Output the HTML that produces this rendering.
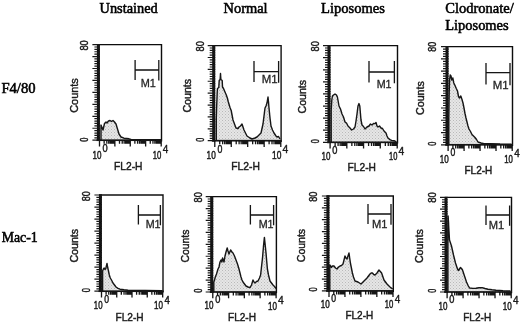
<!DOCTYPE html>
<html lang="en"><head><meta charset="utf-8"><title>Flow cytometry histograms</title>
<style>html,body{margin:0;padding:0;background:#fff}svg{display:block}.s{font-family:"Liberation Sans",Arial,Helvetica,sans-serif;fill:#1b1b1b;stroke:#1b1b1b;stroke-linejoin:round}.m{font-family:"Liberation Sans",Arial,Helvetica,sans-serif;fill:#262626;stroke:#262626}.t{font-family:"Liberation Serif","Times New Roman",Times,serif;fill:#050505;stroke:#050505}</style></head><body>
<svg width="520" height="322" viewBox="0 0 520 322">
<rect width="520" height="322" fill="#fff"/>
<defs><filter id="b" x="-5%" y="-5%" width="110%" height="110%"><feGaussianBlur stdDeviation="0.5"/></filter><pattern id="sp" width="3" height="3" patternUnits="userSpaceOnUse"><rect width="3" height="3" fill="#e6e6e6"/><rect x="0" y="0" width="1" height="1" fill="#b9b9b9"/><rect x="1.5" y="1.5" width="1" height="1" fill="#c4c4c4"/></pattern><filter id="tb" x="-10%" y="-10%" width="120%" height="120%"><feGaussianBlur stdDeviation="0.45"/></filter></defs>
<g filter="url(#b)">
<path d="M99.5 140.2 L99.5 125.0 L101.0 125.0 L103.0 130.0 L104.5 123.5 L106.0 122.0 L107.0 123.0 L108.5 121.0 L110.0 120.5 L111.5 121.5 L113.0 120.5 L114.5 122.0 L116.0 124.0 L117.5 129.0 L119.0 134.0 L121.0 137.0 L124.0 138.2 L129.0 138.8 L131.0 139.5 L161.0 139.6 L161.0 140.2 Z" fill="url(#sp)" stroke="none"/>
<path d="M101.0 140.2 L101.0 125.0 L103.0 130.0 L104.5 123.5 L106.0 122.0 L107.0 123.0 L108.5 121.0 L110.0 120.5 L111.5 121.5 L113.0 120.5 L114.5 122.0 L116.0 124.0 L117.5 129.0 L119.0 134.0 L121.0 137.0 L124.0 138.2 L129.0 138.8 L131.0 139.5 L161.0 139.6" fill="none" stroke="#141414" stroke-width="1.4" stroke-linejoin="round"/>
<path d="M97.0 44.6H161.5V141.4" fill="none" stroke="#0c0c0c" stroke-width="1.4"/>
<rect x="96.9" y="44.2" width="3.0" height="96.8" fill="#111"/>
<rect x="96.5" y="139.35" width="65.5" height="1.7" fill="#141414"/>
<path d="M100.0 140.20h-7.6 M100.0 137.81h-5.6 M100.0 135.42h-5.6 M100.0 133.03h-5.6 M100.0 130.64h-5.6 M100.0 128.25h-7.6 M100.0 125.86h-5.6 M100.0 123.47h-5.6 M100.0 121.08h-5.6 M100.0 118.69h-5.6 M100.0 116.30h-7.6 M100.0 113.91h-5.6 M100.0 111.52h-5.6 M100.0 109.13h-5.6 M100.0 106.74h-5.6 M100.0 104.35h-7.6 M100.0 101.96h-5.6 M100.0 99.57h-5.6 M100.0 97.18h-5.6 M100.0 94.79h-5.6 M100.0 92.40h-7.6 M100.0 90.01h-5.6 M100.0 87.62h-5.6 M100.0 85.23h-5.6 M100.0 82.84h-5.6 M100.0 80.45h-7.6 M100.0 78.06h-5.6 M100.0 75.67h-5.6 M100.0 73.28h-5.6 M100.0 70.89h-5.6 M100.0 68.50h-7.6 M100.0 66.11h-5.6 M100.0 63.72h-5.6 M100.0 61.33h-5.6 M100.0 58.94h-5.6 M100.0 56.55h-7.6 M100.0 54.16h-5.6 M100.0 51.77h-5.6 M100.0 49.38h-5.6 M100.0 46.99h-5.6 M100.0 44.60h-7.6" stroke="#181818" stroke-width="1.2" fill="none"/>
<path d="M99.50 140.2v6.2 M104.13 140.2v3.6 M106.84 140.2v3.6 M108.76 140.2v3.6 M110.25 140.2v3.6 M111.46 140.2v3.6 M112.49 140.2v3.6 M113.39 140.2v3.6 M114.17 140.2v3.6 M114.88 140.2v6.2 M119.50 140.2v3.6 M122.21 140.2v3.6 M124.13 140.2v3.6 M125.62 140.2v3.6 M126.84 140.2v3.6 M127.87 140.2v3.6 M128.76 140.2v3.6 M129.55 140.2v3.6 M130.25 140.2v6.2 M134.88 140.2v3.6 M137.59 140.2v3.6 M139.51 140.2v3.6 M141.00 140.2v3.6 M142.21 140.2v3.6 M143.24 140.2v3.6 M144.14 140.2v3.6 M144.92 140.2v3.6 M145.62 140.2v6.2 M150.25 140.2v3.6 M152.96 140.2v3.6 M154.88 140.2v3.6 M156.37 140.2v3.6 M157.59 140.2v3.6 M158.62 140.2v3.6 M159.51 140.2v3.6 M160.30 140.2v3.6 M161.20 140.2v6.2" stroke="#121212" stroke-width="1.3" fill="none"/>
<path d="M135.1 60.1V80.0M158.8 60.1V80.6M135.1 70.0H158.8" stroke="#141414" stroke-width="1.3" fill="none"/>
<path d="M214.8 140.7 L214.8 118.0 L216.3 118.0 L216.6 108.0 L217.0 98.0 L217.2 92.0 L217.5 88.5 L218.8 87.5 L219.2 80.5 L220.1 79.5 L220.5 73.5 L220.9 79.5 L222.2 80.5 L222.5 87.0 L223.5 88.5 L225.0 92.0 L226.3 95.0 L227.5 98.5 L228.2 101.5 L230.0 107.5 L231.2 110.5 L233.0 120.0 L236.0 128.0 L238.0 128.5 L239.0 127.0 L240.5 126.0 L242.0 124.0 L243.0 127.0 L244.0 130.0 L247.0 136.0 L250.0 138.0 L252.0 139.0 L255.0 138.0 L257.0 137.0 L261.0 133.0 L263.0 124.0 L264.0 116.0 L265.0 108.0 L266.0 106.0 L267.0 103.0 L268.0 97.0 L268.6 103.0 L269.0 108.0 L270.0 118.0 L271.0 126.0 L272.5 130.0 L274.0 133.0 L276.0 136.0 L277.0 137.0 L278.5 136.5 L280.0 139.0 L280.0 140.7 Z" fill="url(#sp)" stroke="none"/>
<path d="M216.3 140.7 L216.3 118.0 L216.6 108.0 L217.0 98.0 L217.2 92.0 L217.5 88.5 L218.8 87.5 L219.2 80.5 L220.1 79.5 L220.5 73.5 L220.9 79.5 L222.2 80.5 L222.5 87.0 L223.5 88.5 L225.0 92.0 L226.3 95.0 L227.5 98.5 L228.2 101.5 L230.0 107.5 L231.2 110.5 L233.0 120.0 L236.0 128.0 L238.0 128.5 L239.0 127.0 L240.5 126.0 L242.0 124.0 L243.0 127.0 L244.0 130.0 L247.0 136.0 L250.0 138.0 L252.0 139.0 L255.0 138.0 L257.0 137.0 L261.0 133.0 L263.0 124.0 L264.0 116.0 L265.0 108.0 L266.0 106.0 L267.0 103.0 L268.0 97.0 L268.6 103.0 L269.0 108.0 L270.0 118.0 L271.0 126.0 L272.5 130.0 L274.0 133.0 L276.0 136.0 L277.0 137.0 L278.5 136.5 L280.0 139.0" fill="none" stroke="#141414" stroke-width="1.4" stroke-linejoin="round"/>
<path d="M212.3 45.6H281.1V141.9" fill="none" stroke="#0c0c0c" stroke-width="1.4"/>
<rect x="212.2" y="45.2" width="3.0" height="96.3" fill="#111"/>
<rect x="211.8" y="139.85" width="69.8" height="1.7" fill="#141414"/>
<path d="M215.3 140.70h-7.6 M215.3 138.32h-5.6 M215.3 135.94h-5.6 M215.3 133.57h-5.6 M215.3 131.19h-5.6 M215.3 128.81h-7.6 M215.3 126.43h-5.6 M215.3 124.06h-5.6 M215.3 121.68h-5.6 M215.3 119.30h-5.6 M215.3 116.92h-7.6 M215.3 114.55h-5.6 M215.3 112.17h-5.6 M215.3 109.79h-5.6 M215.3 107.41h-5.6 M215.3 105.04h-7.6 M215.3 102.66h-5.6 M215.3 100.28h-5.6 M215.3 97.90h-5.6 M215.3 95.53h-5.6 M215.3 93.15h-7.6 M215.3 90.77h-5.6 M215.3 88.39h-5.6 M215.3 86.02h-5.6 M215.3 83.64h-5.6 M215.3 81.26h-7.6 M215.3 78.88h-5.6 M215.3 76.51h-5.6 M215.3 74.13h-5.6 M215.3 71.75h-5.6 M215.3 69.37h-7.6 M215.3 67.00h-5.6 M215.3 64.62h-5.6 M215.3 62.24h-5.6 M215.3 59.86h-5.6 M215.3 57.49h-7.6 M215.3 55.11h-5.6 M215.3 52.73h-5.6 M215.3 50.35h-5.6 M215.3 47.98h-5.6 M215.3 45.60h-7.6" stroke="#181818" stroke-width="1.2" fill="none"/>
<path d="M214.80 140.7v6.2 M219.75 140.7v3.6 M222.65 140.7v3.6 M224.70 140.7v3.6 M226.30 140.7v3.6 M227.60 140.7v3.6 M228.70 140.7v3.6 M229.66 140.7v3.6 M230.50 140.7v3.6 M231.25 140.7v6.2 M236.20 140.7v3.6 M239.10 140.7v3.6 M241.15 140.7v3.6 M242.75 140.7v3.6 M244.05 140.7v3.6 M245.15 140.7v3.6 M246.11 140.7v3.6 M246.95 140.7v3.6 M247.70 140.7v6.2 M252.65 140.7v3.6 M255.55 140.7v3.6 M257.60 140.7v3.6 M259.20 140.7v3.6 M260.50 140.7v3.6 M261.60 140.7v3.6 M262.56 140.7v3.6 M263.40 140.7v3.6 M264.15 140.7v6.2 M269.10 140.7v3.6 M272.00 140.7v3.6 M274.05 140.7v3.6 M275.65 140.7v3.6 M276.95 140.7v3.6 M278.05 140.7v3.6 M279.01 140.7v3.6 M279.85 140.7v3.6 M280.80 140.7v6.2" stroke="#121212" stroke-width="1.3" fill="none"/>
<path d="M254.0 61.0V82.1M278.6 61.0V82.7M254.0 71.6H278.6" stroke="#141414" stroke-width="1.3" fill="none"/>
<path d="M330.1 142.3 L330.1 110.0 L331.2 110.0 L331.8 100.0 L332.4 96.0 L333.5 95.0 L335.0 94.0 L336.5 95.0 L337.4 97.0 L338.3 102.0 L339.0 106.0 L340.5 109.0 L342.0 114.0 L343.5 117.0 L345.0 122.0 L346.5 123.0 L348.0 126.0 L350.0 128.0 L351.6 130.0 L353.5 129.0 L355.0 127.0 L356.0 121.0 L357.0 114.0 L358.0 106.0 L359.0 103.6 L359.8 106.0 L360.3 112.0 L361.0 120.0 L362.0 125.0 L363.5 126.5 L365.0 129.0 L367.0 127.0 L369.0 126.0 L370.5 124.0 L372.0 125.0 L373.5 123.5 L375.0 123.6 L376.0 122.5 L377.0 126.0 L378.0 127.0 L379.5 126.0 L381.0 128.0 L382.5 128.5 L384.0 131.0 L386.0 133.0 L387.0 136.0 L388.0 138.0 L390.0 139.6 L392.0 140.6 L394.0 140.6 L396.0 141.6 L396.0 142.3 Z" fill="url(#sp)" stroke="none"/>
<path d="M331.2 142.3 L331.2 110.0 L331.8 100.0 L332.4 96.0 L333.5 95.0 L335.0 94.0 L336.5 95.0 L337.4 97.0 L338.3 102.0 L339.0 106.0 L340.5 109.0 L342.0 114.0 L343.5 117.0 L345.0 122.0 L346.5 123.0 L348.0 126.0 L350.0 128.0 L351.6 130.0 L353.5 129.0 L355.0 127.0 L356.0 121.0 L357.0 114.0 L358.0 106.0 L359.0 103.6 L359.8 106.0 L360.3 112.0 L361.0 120.0 L362.0 125.0 L363.5 126.5 L365.0 129.0 L367.0 127.0 L369.0 126.0 L370.5 124.0 L372.0 125.0 L373.5 123.5 L375.0 123.6 L376.0 122.5 L377.0 126.0 L378.0 127.0 L379.5 126.0 L381.0 128.0 L382.5 128.5 L384.0 131.0 L386.0 133.0 L387.0 136.0 L388.0 138.0 L390.0 139.6 L392.0 140.6 L394.0 140.6 L396.0 141.6" fill="none" stroke="#141414" stroke-width="1.4" stroke-linejoin="round"/>
<path d="M327.6 45.6H397.5V143.5" fill="none" stroke="#0c0c0c" stroke-width="1.4"/>
<rect x="327.5" y="45.2" width="3.0" height="97.9" fill="#111"/>
<rect x="327.1" y="141.45" width="70.9" height="1.7" fill="#141414"/>
<path d="M330.6 142.30h-7.6 M330.6 139.88h-5.6 M330.6 137.47h-5.6 M330.6 135.05h-5.6 M330.6 132.63h-5.6 M330.6 130.21h-7.6 M330.6 127.80h-5.6 M330.6 125.38h-5.6 M330.6 122.96h-5.6 M330.6 120.54h-5.6 M330.6 118.12h-7.6 M330.6 115.71h-5.6 M330.6 113.29h-5.6 M330.6 110.87h-5.6 M330.6 108.46h-5.6 M330.6 106.04h-7.6 M330.6 103.62h-5.6 M330.6 101.20h-5.6 M330.6 98.78h-5.6 M330.6 96.37h-5.6 M330.6 93.95h-7.6 M330.6 91.53h-5.6 M330.6 89.11h-5.6 M330.6 86.70h-5.6 M330.6 84.28h-5.6 M330.6 81.86h-7.6 M330.6 79.45h-5.6 M330.6 77.03h-5.6 M330.6 74.61h-5.6 M330.6 72.19h-5.6 M330.6 69.78h-7.6 M330.6 67.36h-5.6 M330.6 64.94h-5.6 M330.6 62.52h-5.6 M330.6 60.10h-5.6 M330.6 57.69h-7.6 M330.6 55.27h-5.6 M330.6 52.85h-5.6 M330.6 50.43h-5.6 M330.6 48.02h-5.6 M330.6 45.60h-7.6" stroke="#181818" stroke-width="1.2" fill="none"/>
<path d="M330.10 142.3v6.2 M335.13 142.3v3.6 M338.08 142.3v3.6 M340.17 142.3v3.6 M341.79 142.3v3.6 M343.11 142.3v3.6 M344.23 142.3v3.6 M345.20 142.3v3.6 M346.06 142.3v3.6 M346.83 142.3v6.2 M351.86 142.3v3.6 M354.80 142.3v3.6 M356.89 142.3v3.6 M358.52 142.3v3.6 M359.84 142.3v3.6 M360.96 142.3v3.6 M361.93 142.3v3.6 M362.78 142.3v3.6 M363.55 142.3v6.2 M368.58 142.3v3.6 M371.53 142.3v3.6 M373.62 142.3v3.6 M375.24 142.3v3.6 M376.56 142.3v3.6 M377.68 142.3v3.6 M378.65 142.3v3.6 M379.51 142.3v3.6 M380.27 142.3v6.2 M385.31 142.3v3.6 M388.25 142.3v3.6 M390.34 142.3v3.6 M391.97 142.3v3.6 M393.29 142.3v3.6 M394.41 142.3v3.6 M395.38 142.3v3.6 M396.23 142.3v3.6 M397.20 142.3v6.2" stroke="#121212" stroke-width="1.3" fill="none"/>
<path d="M369.0 61.0V82.6M394.4 61.0V83.2M369.0 72.0H394.4" stroke="#141414" stroke-width="1.3" fill="none"/>
<path d="M448.1 144.8 L448.1 118.0 L448.8 118.0 L449.0 104.0 L449.2 92.0 L449.6 80.0 L450.2 75.0 L451.0 76.0 L451.8 80.0 L452.8 78.0 L453.8 83.0 L455.0 85.5 L456.3 88.5 L457.5 91.0 L458.5 96.5 L459.5 98.0 L460.8 96.0 L462.0 99.5 L463.0 103.0 L464.0 108.0 L465.0 113.5 L466.0 118.0 L467.0 122.0 L468.0 126.0 L469.0 129.0 L470.5 131.5 L472.0 134.5 L473.5 136.0 L475.0 137.5 L476.5 139.5 L478.0 142.0 L481.0 143.0 L484.0 143.8 L490.0 143.6 L500.0 144.0 L511.5 144.2 L511.5 144.8 Z" fill="url(#sp)" stroke="none"/>
<path d="M448.8 144.8 L448.8 118.0 L449.0 104.0 L449.2 92.0 L449.6 80.0 L450.2 75.0 L451.0 76.0 L451.8 80.0 L452.8 78.0 L453.8 83.0 L455.0 85.5 L456.3 88.5 L457.5 91.0 L458.5 96.5 L459.5 98.0 L460.8 96.0 L462.0 99.5 L463.0 103.0 L464.0 108.0 L465.0 113.5 L466.0 118.0 L467.0 122.0 L468.0 126.0 L469.0 129.0 L470.5 131.5 L472.0 134.5 L473.5 136.0 L475.0 137.5 L476.5 139.5 L478.0 142.0 L481.0 143.0 L484.0 143.8 L490.0 143.6 L500.0 144.0 L511.5 144.2" fill="none" stroke="#141414" stroke-width="1.4" stroke-linejoin="round"/>
<path d="M445.6 46.6H512.5V146.0" fill="none" stroke="#0c0c0c" stroke-width="1.4"/>
<rect x="445.5" y="46.2" width="3.0" height="99.4" fill="#111"/>
<rect x="445.1" y="143.95" width="67.9" height="1.7" fill="#141414"/>
<path d="M448.6 144.80h-7.6 M448.6 142.34h-5.6 M448.6 139.89h-5.6 M448.6 137.44h-5.6 M448.6 134.98h-5.6 M448.6 132.53h-7.6 M448.6 130.07h-5.6 M448.6 127.62h-5.6 M448.6 125.16h-5.6 M448.6 122.71h-5.6 M448.6 120.25h-7.6 M448.6 117.80h-5.6 M448.6 115.34h-5.6 M448.6 112.89h-5.6 M448.6 110.43h-5.6 M448.6 107.98h-7.6 M448.6 105.52h-5.6 M448.6 103.06h-5.6 M448.6 100.61h-5.6 M448.6 98.16h-5.6 M448.6 95.70h-7.6 M448.6 93.25h-5.6 M448.6 90.79h-5.6 M448.6 88.34h-5.6 M448.6 85.88h-5.6 M448.6 83.42h-7.6 M448.6 80.97h-5.6 M448.6 78.52h-5.6 M448.6 76.06h-5.6 M448.6 73.60h-5.6 M448.6 71.15h-7.6 M448.6 68.69h-5.6 M448.6 66.24h-5.6 M448.6 63.78h-5.6 M448.6 61.33h-5.6 M448.6 58.88h-7.6 M448.6 56.42h-5.6 M448.6 53.97h-5.6 M448.6 51.51h-5.6 M448.6 49.05h-5.6 M448.6 46.60h-7.6" stroke="#181818" stroke-width="1.2" fill="none"/>
<path d="M448.10 144.8v6.2 M452.91 144.8v3.6 M455.72 144.8v3.6 M457.72 144.8v3.6 M459.27 144.8v3.6 M460.53 144.8v3.6 M461.60 144.8v3.6 M462.53 144.8v3.6 M463.34 144.8v3.6 M464.08 144.8v6.2 M468.88 144.8v3.6 M471.70 144.8v3.6 M473.69 144.8v3.6 M475.24 144.8v3.6 M476.51 144.8v3.6 M477.58 144.8v3.6 M478.50 144.8v3.6 M479.32 144.8v3.6 M480.05 144.8v6.2 M484.86 144.8v3.6 M487.67 144.8v3.6 M489.67 144.8v3.6 M491.22 144.8v3.6 M492.48 144.8v3.6 M493.55 144.8v3.6 M494.48 144.8v3.6 M495.29 144.8v3.6 M496.02 144.8v6.2 M500.83 144.8v3.6 M503.65 144.8v3.6 M505.64 144.8v3.6 M507.19 144.8v3.6 M508.46 144.8v3.6 M509.53 144.8v3.6 M510.45 144.8v3.6 M511.27 144.8v3.6 M512.20 144.8v6.2" stroke="#121212" stroke-width="1.3" fill="none"/>
<path d="M486.0 63.0V84.6M510.0 63.0V85.2M486.0 72.6H510.0" stroke="#141414" stroke-width="1.3" fill="none"/>
<path d="M101.5 291.2 L101.5 271.0 L102.6 271.0 L103.4 269.0 L104.2 268.0 L105.0 269.5 L105.8 268.5 L107.0 263.4 L107.8 268.0 L108.5 271.0 L109.3 275.0 L110.3 278.0 L111.5 280.0 L113.0 283.0 L114.5 285.0 L116.0 287.0 L118.0 288.4 L120.0 289.2 L124.0 289.8 L128.0 290.2 L162.0 290.6 L162.0 291.2 Z" fill="url(#sp)" stroke="none"/>
<path d="M102.6 291.2 L102.6 271.0 L103.4 269.0 L104.2 268.0 L105.0 269.5 L105.8 268.5 L107.0 263.4 L107.8 268.0 L108.5 271.0 L109.3 275.0 L110.3 278.0 L111.5 280.0 L113.0 283.0 L114.5 285.0 L116.0 287.0 L118.0 288.4 L120.0 289.2 L124.0 289.8 L128.0 290.2 L162.0 290.6" fill="none" stroke="#141414" stroke-width="1.4" stroke-linejoin="round"/>
<path d="M99.0 195.0H163.0V292.4" fill="none" stroke="#0c0c0c" stroke-width="1.4"/>
<rect x="98.9" y="194.6" width="3.0" height="97.4" fill="#111"/>
<rect x="98.5" y="290.35" width="65.0" height="1.7" fill="#141414"/>
<path d="M102.0 291.20h-7.6 M102.0 288.80h-5.6 M102.0 286.39h-5.6 M102.0 283.99h-5.6 M102.0 281.58h-5.6 M102.0 279.18h-7.6 M102.0 276.77h-5.6 M102.0 274.37h-5.6 M102.0 271.96h-5.6 M102.0 269.56h-5.6 M102.0 267.15h-7.6 M102.0 264.75h-5.6 M102.0 262.34h-5.6 M102.0 259.94h-5.6 M102.0 257.53h-5.6 M102.0 255.12h-7.6 M102.0 252.72h-5.6 M102.0 250.31h-5.6 M102.0 247.91h-5.6 M102.0 245.50h-5.6 M102.0 243.10h-7.6 M102.0 240.69h-5.6 M102.0 238.29h-5.6 M102.0 235.88h-5.6 M102.0 233.48h-5.6 M102.0 231.07h-7.6 M102.0 228.67h-5.6 M102.0 226.26h-5.6 M102.0 223.86h-5.6 M102.0 221.45h-5.6 M102.0 219.05h-7.6 M102.0 216.64h-5.6 M102.0 214.24h-5.6 M102.0 211.84h-5.6 M102.0 209.43h-5.6 M102.0 207.03h-7.6 M102.0 204.62h-5.6 M102.0 202.22h-5.6 M102.0 199.81h-5.6 M102.0 197.41h-5.6 M102.0 195.00h-7.6" stroke="#181818" stroke-width="1.2" fill="none"/>
<path d="M101.50 291.2v6.2 M106.09 291.2v3.6 M108.78 291.2v3.6 M110.68 291.2v3.6 M112.16 291.2v3.6 M113.37 291.2v3.6 M114.39 291.2v3.6 M115.27 291.2v3.6 M116.05 291.2v3.6 M116.75 291.2v6.2 M121.34 291.2v3.6 M124.03 291.2v3.6 M125.93 291.2v3.6 M127.41 291.2v3.6 M128.62 291.2v3.6 M129.64 291.2v3.6 M130.52 291.2v3.6 M131.30 291.2v3.6 M132.00 291.2v6.2 M136.59 291.2v3.6 M139.28 291.2v3.6 M141.18 291.2v3.6 M142.66 291.2v3.6 M143.87 291.2v3.6 M144.89 291.2v3.6 M145.77 291.2v3.6 M146.55 291.2v3.6 M147.25 291.2v6.2 M151.84 291.2v3.6 M154.53 291.2v3.6 M156.43 291.2v3.6 M157.91 291.2v3.6 M159.12 291.2v3.6 M160.14 291.2v3.6 M161.02 291.2v3.6 M161.80 291.2v3.6 M162.70 291.2v6.2" stroke="#121212" stroke-width="1.3" fill="none"/>
<path d="M138.4 205.0V224.6M160.4 205.0V225.2M138.4 215.0H160.4" stroke="#141414" stroke-width="1.3" fill="none"/>
<path d="M212.8 292.0 L212.8 282.0 L213.8 282.0 L214.5 280.0 L215.3 277.0 L216.5 274.0 L218.0 269.0 L219.0 267.0 L220.0 262.0 L221.0 260.0 L221.8 262.0 L222.6 258.0 L223.3 260.0 L224.0 262.0 L225.0 256.0 L226.0 252.0 L227.2 248.0 L228.0 251.0 L229.0 254.0 L229.8 252.0 L230.6 250.0 L232.0 252.0 L233.0 253.0 L234.5 256.0 L236.0 260.0 L237.5 264.0 L239.0 269.0 L240.0 273.0 L241.0 277.0 L242.0 280.0 L243.0 282.0 L244.5 284.0 L246.0 286.0 L248.0 287.0 L250.0 287.6 L251.5 285.0 L253.0 280.0 L254.0 282.0 L255.0 283.0 L256.5 281.5 L258.0 281.0 L259.5 278.0 L260.6 275.0 L261.6 266.0 L262.6 257.0 L263.5 246.0 L264.4 237.4 L265.2 245.0 L266.0 253.0 L266.7 261.0 L267.4 269.0 L268.5 275.0 L270.0 281.0 L271.5 283.0 L273.0 285.0 L274.5 286.5 L276.0 288.5 L276.0 292.0 Z" fill="url(#sp)" stroke="none"/>
<path d="M213.8 292.0 L213.8 282.0 L214.5 280.0 L215.3 277.0 L216.5 274.0 L218.0 269.0 L219.0 267.0 L220.0 262.0 L221.0 260.0 L221.8 262.0 L222.6 258.0 L223.3 260.0 L224.0 262.0 L225.0 256.0 L226.0 252.0 L227.2 248.0 L228.0 251.0 L229.0 254.0 L229.8 252.0 L230.6 250.0 L232.0 252.0 L233.0 253.0 L234.5 256.0 L236.0 260.0 L237.5 264.0 L239.0 269.0 L240.0 273.0 L241.0 277.0 L242.0 280.0 L243.0 282.0 L244.5 284.0 L246.0 286.0 L248.0 287.0 L250.0 287.6 L251.5 285.0 L253.0 280.0 L254.0 282.0 L255.0 283.0 L256.5 281.5 L258.0 281.0 L259.5 278.0 L260.6 275.0 L261.6 266.0 L262.6 257.0 L263.5 246.0 L264.4 237.4 L265.2 245.0 L266.0 253.0 L266.7 261.0 L267.4 269.0 L268.5 275.0 L270.0 281.0 L271.5 283.0 L273.0 285.0 L274.5 286.5 L276.0 288.5" fill="none" stroke="#141414" stroke-width="1.4" stroke-linejoin="round"/>
<path d="M210.3 196.6H276.4V293.2" fill="none" stroke="#0c0c0c" stroke-width="1.4"/>
<rect x="210.2" y="196.2" width="3.0" height="96.6" fill="#111"/>
<rect x="209.8" y="291.15" width="67.1" height="1.7" fill="#141414"/>
<path d="M213.3 292.00h-7.6 M213.3 289.62h-5.6 M213.3 287.23h-5.6 M213.3 284.85h-5.6 M213.3 282.46h-5.6 M213.3 280.07h-7.6 M213.3 277.69h-5.6 M213.3 275.31h-5.6 M213.3 272.92h-5.6 M213.3 270.54h-5.6 M213.3 268.15h-7.6 M213.3 265.76h-5.6 M213.3 263.38h-5.6 M213.3 261.00h-5.6 M213.3 258.61h-5.6 M213.3 256.23h-7.6 M213.3 253.84h-5.6 M213.3 251.45h-5.6 M213.3 249.07h-5.6 M213.3 246.69h-5.6 M213.3 244.30h-7.6 M213.3 241.91h-5.6 M213.3 239.53h-5.6 M213.3 237.14h-5.6 M213.3 234.76h-5.6 M213.3 232.38h-7.6 M213.3 229.99h-5.6 M213.3 227.60h-5.6 M213.3 225.22h-5.6 M213.3 222.83h-5.6 M213.3 220.45h-7.6 M213.3 218.06h-5.6 M213.3 215.68h-5.6 M213.3 213.29h-5.6 M213.3 210.91h-5.6 M213.3 208.53h-7.6 M213.3 206.14h-5.6 M213.3 203.75h-5.6 M213.3 201.37h-5.6 M213.3 198.98h-5.6 M213.3 196.60h-7.6" stroke="#181818" stroke-width="1.2" fill="none"/>
<path d="M212.80 292.0v6.2 M217.55 292.0v3.6 M220.33 292.0v3.6 M222.30 292.0v3.6 M223.83 292.0v3.6 M225.08 292.0v3.6 M226.13 292.0v3.6 M227.05 292.0v3.6 M227.85 292.0v3.6 M228.57 292.0v6.2 M233.32 292.0v3.6 M236.10 292.0v3.6 M238.07 292.0v3.6 M239.60 292.0v3.6 M240.85 292.0v3.6 M241.91 292.0v3.6 M242.82 292.0v3.6 M243.63 292.0v3.6 M244.35 292.0v6.2 M249.10 292.0v3.6 M251.88 292.0v3.6 M253.85 292.0v3.6 M255.38 292.0v3.6 M256.63 292.0v3.6 M257.68 292.0v3.6 M258.60 292.0v3.6 M259.40 292.0v3.6 M260.12 292.0v6.2 M264.87 292.0v3.6 M267.65 292.0v3.6 M269.62 292.0v3.6 M271.15 292.0v3.6 M272.40 292.0v3.6 M273.46 292.0v3.6 M274.37 292.0v3.6 M275.18 292.0v3.6 M276.10 292.0v6.2" stroke="#121212" stroke-width="1.3" fill="none"/>
<path d="M250.4 205.0V224.6M273.6 205.0V225.2M250.4 215.0H273.6" stroke="#141414" stroke-width="1.3" fill="none"/>
<path d="M329.0 290.9 L329.0 265.0 L329.8 265.0 L330.6 266.0 L331.5 267.4 L332.5 266.0 L334.0 266.0 L335.5 268.0 L337.0 269.0 L338.5 267.0 L340.0 266.0 L341.5 265.5 L343.0 264.0 L344.0 260.0 L345.0 256.0 L346.0 258.0 L347.0 259.0 L348.0 256.0 L349.0 253.0 L349.7 258.0 L350.4 263.0 L351.4 268.0 L352.4 273.0 L353.5 277.0 L355.0 281.0 L356.5 281.5 L358.0 282.0 L359.5 283.0 L361.0 284.0 L362.5 282.5 L364.0 281.0 L365.5 279.5 L367.0 278.0 L368.5 276.0 L370.0 274.0 L371.2 273.0 L372.4 273.0 L373.7 274.5 L375.0 275.0 L376.0 274.0 L377.0 273.0 L378.0 271.5 L379.0 270.0 L380.3 271.5 L381.6 273.0 L382.8 276.5 L384.0 280.0 L385.5 282.0 L387.0 284.0 L388.5 285.5 L390.0 287.0 L391.3 288.0 L392.6 289.0 L392.6 290.9 Z" fill="url(#sp)" stroke="none"/>
<path d="M329.8 290.9 L329.8 265.0 L330.6 266.0 L331.5 267.4 L332.5 266.0 L334.0 266.0 L335.5 268.0 L337.0 269.0 L338.5 267.0 L340.0 266.0 L341.5 265.5 L343.0 264.0 L344.0 260.0 L345.0 256.0 L346.0 258.0 L347.0 259.0 L348.0 256.0 L349.0 253.0 L349.7 258.0 L350.4 263.0 L351.4 268.0 L352.4 273.0 L353.5 277.0 L355.0 281.0 L356.5 281.5 L358.0 282.0 L359.5 283.0 L361.0 284.0 L362.5 282.5 L364.0 281.0 L365.5 279.5 L367.0 278.0 L368.5 276.0 L370.0 274.0 L371.2 273.0 L372.4 273.0 L373.7 274.5 L375.0 275.0 L376.0 274.0 L377.0 273.0 L378.0 271.5 L379.0 270.0 L380.3 271.5 L381.6 273.0 L382.8 276.5 L384.0 280.0 L385.5 282.0 L387.0 284.0 L388.5 285.5 L390.0 287.0 L391.3 288.0 L392.6 289.0" fill="none" stroke="#141414" stroke-width="1.4" stroke-linejoin="round"/>
<path d="M326.5 196.0H393.3V292.1" fill="none" stroke="#0c0c0c" stroke-width="1.4"/>
<rect x="326.4" y="195.6" width="3.0" height="96.1" fill="#111"/>
<rect x="326.0" y="290.05" width="67.8" height="1.7" fill="#141414"/>
<path d="M329.5 290.90h-7.6 M329.5 288.53h-5.6 M329.5 286.15h-5.6 M329.5 283.78h-5.6 M329.5 281.41h-5.6 M329.5 279.04h-7.6 M329.5 276.66h-5.6 M329.5 274.29h-5.6 M329.5 271.92h-5.6 M329.5 269.55h-5.6 M329.5 267.17h-7.6 M329.5 264.80h-5.6 M329.5 262.43h-5.6 M329.5 260.06h-5.6 M329.5 257.69h-5.6 M329.5 255.31h-7.6 M329.5 252.94h-5.6 M329.5 250.57h-5.6 M329.5 248.19h-5.6 M329.5 245.82h-5.6 M329.5 243.45h-7.6 M329.5 241.08h-5.6 M329.5 238.70h-5.6 M329.5 236.33h-5.6 M329.5 233.96h-5.6 M329.5 231.59h-7.6 M329.5 229.21h-5.6 M329.5 226.84h-5.6 M329.5 224.47h-5.6 M329.5 222.10h-5.6 M329.5 219.72h-7.6 M329.5 217.35h-5.6 M329.5 214.98h-5.6 M329.5 212.61h-5.6 M329.5 210.23h-5.6 M329.5 207.86h-7.6 M329.5 205.49h-5.6 M329.5 203.12h-5.6 M329.5 200.75h-5.6 M329.5 198.37h-5.6 M329.5 196.00h-7.6" stroke="#181818" stroke-width="1.2" fill="none"/>
<path d="M329.00 290.9v6.2 M333.80 290.9v3.6 M336.61 290.9v3.6 M338.60 290.9v3.6 M340.15 290.9v3.6 M341.41 290.9v3.6 M342.48 290.9v3.6 M343.40 290.9v3.6 M344.22 290.9v3.6 M344.95 290.9v6.2 M349.75 290.9v3.6 M352.56 290.9v3.6 M354.55 290.9v3.6 M356.10 290.9v3.6 M357.36 290.9v3.6 M358.43 290.9v3.6 M359.35 290.9v3.6 M360.17 290.9v3.6 M360.90 290.9v6.2 M365.70 290.9v3.6 M368.51 290.9v3.6 M370.50 290.9v3.6 M372.05 290.9v3.6 M373.31 290.9v3.6 M374.38 290.9v3.6 M375.30 290.9v3.6 M376.12 290.9v3.6 M376.85 290.9v6.2 M381.65 290.9v3.6 M384.46 290.9v3.6 M386.45 290.9v3.6 M388.00 290.9v3.6 M389.26 290.9v3.6 M390.33 290.9v3.6 M391.25 290.9v3.6 M392.07 290.9v3.6 M393.00 290.9v6.2" stroke="#121212" stroke-width="1.3" fill="none"/>
<path d="M368.0 204.0V224.1M391.0 204.0V224.7M368.0 214.0H391.0" stroke="#141414" stroke-width="1.3" fill="none"/>
<path d="M447.1 292.0 L447.1 232.0 L447.9 232.0 L448.1 216.0 L448.5 222.0 L448.9 230.0 L449.5 240.0 L450.5 243.0 L451.5 246.0 L452.5 250.5 L453.5 255.0 L454.5 259.0 L455.5 263.0 L456.5 266.0 L457.5 269.0 L458.5 270.5 L459.5 269.0 L460.5 267.5 L461.5 268.5 L462.5 270.0 L463.5 273.0 L465.0 277.5 L466.5 282.0 L468.0 285.3 L469.6 288.0 L473.0 288.4 L476.0 288.2 L479.0 287.7 L482.0 287.6 L485.0 288.5 L488.0 289.2 L492.0 289.8 L496.0 290.3 L503.0 290.8 L510.5 291.0 L510.5 292.0 Z" fill="url(#sp)" stroke="none"/>
<path d="M447.9 292.0 L447.9 232.0 L448.1 216.0 L448.5 222.0 L448.9 230.0 L449.5 240.0 L450.5 243.0 L451.5 246.0 L452.5 250.5 L453.5 255.0 L454.5 259.0 L455.5 263.0 L456.5 266.0 L457.5 269.0 L458.5 270.5 L459.5 269.0 L460.5 267.5 L461.5 268.5 L462.5 270.0 L463.5 273.0 L465.0 277.5 L466.5 282.0 L468.0 285.3 L469.6 288.0 L473.0 288.4 L476.0 288.2 L479.0 287.7 L482.0 287.6 L485.0 288.5 L488.0 289.2 L492.0 289.8 L496.0 290.3 L503.0 290.8 L510.5 291.0" fill="none" stroke="#141414" stroke-width="1.4" stroke-linejoin="round"/>
<path d="M444.6 197.4H511.5V293.2" fill="none" stroke="#0c0c0c" stroke-width="1.4"/>
<rect x="444.5" y="197.0" width="3.0" height="95.8" fill="#111"/>
<rect x="444.1" y="291.15" width="67.9" height="1.7" fill="#141414"/>
<path d="M447.6 292.00h-7.6 M447.6 289.63h-5.6 M447.6 287.27h-5.6 M447.6 284.90h-5.6 M447.6 282.54h-5.6 M447.6 280.18h-7.6 M447.6 277.81h-5.6 M447.6 275.44h-5.6 M447.6 273.08h-5.6 M447.6 270.71h-5.6 M447.6 268.35h-7.6 M447.6 265.99h-5.6 M447.6 263.62h-5.6 M447.6 261.25h-5.6 M447.6 258.89h-5.6 M447.6 256.52h-7.6 M447.6 254.16h-5.6 M447.6 251.80h-5.6 M447.6 249.43h-5.6 M447.6 247.06h-5.6 M447.6 244.70h-7.6 M447.6 242.34h-5.6 M447.6 239.97h-5.6 M447.6 237.61h-5.6 M447.6 235.24h-5.6 M447.6 232.88h-7.6 M447.6 230.51h-5.6 M447.6 228.15h-5.6 M447.6 225.78h-5.6 M447.6 223.42h-5.6 M447.6 221.05h-7.6 M447.6 218.69h-5.6 M447.6 216.32h-5.6 M447.6 213.96h-5.6 M447.6 211.59h-5.6 M447.6 209.22h-7.6 M447.6 206.86h-5.6 M447.6 204.50h-5.6 M447.6 202.13h-5.6 M447.6 199.77h-5.6 M447.6 197.40h-7.6" stroke="#181818" stroke-width="1.2" fill="none"/>
<path d="M447.10 292.0v6.2 M451.91 292.0v3.6 M454.72 292.0v3.6 M456.72 292.0v3.6 M458.27 292.0v3.6 M459.53 292.0v3.6 M460.60 292.0v3.6 M461.53 292.0v3.6 M462.34 292.0v3.6 M463.08 292.0v6.2 M467.88 292.0v3.6 M470.70 292.0v3.6 M472.69 292.0v3.6 M474.24 292.0v3.6 M475.51 292.0v3.6 M476.58 292.0v3.6 M477.50 292.0v3.6 M478.32 292.0v3.6 M479.05 292.0v6.2 M483.86 292.0v3.6 M486.67 292.0v3.6 M488.67 292.0v3.6 M490.22 292.0v3.6 M491.48 292.0v3.6 M492.55 292.0v3.6 M493.48 292.0v3.6 M494.29 292.0v3.6 M495.02 292.0v6.2 M499.83 292.0v3.6 M502.65 292.0v3.6 M504.64 292.0v3.6 M506.19 292.0v3.6 M507.46 292.0v3.6 M508.53 292.0v3.6 M509.45 292.0v3.6 M510.27 292.0v3.6 M511.20 292.0v6.2" stroke="#121212" stroke-width="1.3" fill="none"/>
<path d="M486.0 205.4V225.1M509.6 205.4V225.7M486.0 215.0H509.6" stroke="#141414" stroke-width="1.3" fill="none"/>
</g>
<g filter="url(#tb)">
<text class="t" transform="translate(99.50 12.60) scale(1.4395 1.5385)" x="-0.000" y="0" font-size="10" stroke-width="0.369">Unstained</text>
<text class="t" transform="translate(223.50 12.60) scale(1.4459 1.5385)" x="-0.000" y="0" font-size="10" stroke-width="0.369">Normal</text>
<text class="t" transform="translate(321.00 13.00) scale(1.4579 1.5385)" x="-0.000" y="0" font-size="10" stroke-width="0.367">Liposomes</text>
<text class="t" transform="translate(445.20 12.60) scale(1.4555 1.5152)" x="-0.000" y="0" font-size="10" stroke-width="0.370">Clodronate/</text>
<text class="t" transform="translate(445.20 29.90) scale(1.4465 1.4769)" x="-0.000" y="0" font-size="10" stroke-width="0.376">Liposomes</text>
<text class="t" transform="translate(1.40 92.80) scale(1.4635 1.5077)" x="-0.000" y="0" font-size="10" stroke-width="0.370">F4/80</text>
<text class="t" transform="translate(1.70 242.30) scale(1.3793 1.4615)" x="-0.000" y="0" font-size="10" stroke-width="0.387">Mac-1</text>
<text class="m" transform="translate(140.65 87.25) scale(1.0899 1.1594)" x="-0.000" y="-0.000" font-size="10" stroke-width="0.267">M1</text>
<text class="s" transform="translate(88.39 50.54) rotate(-90) scale(0.9216 1.0465)" x="-0.000" y="-0.100" font-size="10" stroke-width="0.427">80</text>
<text class="s" transform="translate(88.39 141.69) rotate(-90) scale(0.7554 1.0817)" x="-0.000" y="-0.100" font-size="10" stroke-width="0.457">0</text>
<text class="s" transform="translate(77.69 112.79) rotate(-90) scale(1.0909 1.1239)" x="-0.000" y="-0.100" font-size="10" stroke-width="0.379">Counts</text>
<text class="s" transform="translate(92.61 158.79) scale(0.8045 1.1239)" x="-0.000" y="-0.100" font-size="10" stroke-width="0.436">10</text>
<text class="s" transform="translate(102.61 152.29) scale(0.9250 1.0817)" x="-0.000" y="-0.100" font-size="10" stroke-width="0.419">0</text>
<text class="s" transform="translate(152.71 158.79) scale(0.7730 1.1239)" x="-0.000" y="-0.100" font-size="10" stroke-width="0.443">10</text>
<text class="s" transform="translate(162.71 152.54) scale(0.9964 1.0986)" x="-0.000" y="-0.000" font-size="10" stroke-width="0.401">4</text>
<text class="s" transform="translate(113.96 170.04) scale(1.0281 1.1329)" x="-0.000" y="-0.000" font-size="10" stroke-width="0.389">FL2-H</text>
<text class="m" transform="translate(261.65 82.65) scale(1.1439 1.1449)" x="-0.000" y="-0.000" font-size="10" stroke-width="0.262">M1</text>
<text class="s" transform="translate(203.89 51.39) rotate(-90) scale(0.9171 1.0958)" x="-0.000" y="-0.100" font-size="10" stroke-width="0.417">80</text>
<text class="s" transform="translate(203.89 141.69) rotate(-90) scale(0.7107 1.1169)" x="-0.000" y="-0.100" font-size="10" stroke-width="0.460">0</text>
<text class="s" transform="translate(191.59 112.59) rotate(-90) scale(1.0656 1.0394)" x="-0.000" y="-0.100" font-size="10" stroke-width="0.399">Counts</text>
<text class="s" transform="translate(206.61 159.19) scale(0.8270 1.1239)" x="-0.000" y="-0.100" font-size="10" stroke-width="0.431">10</text>
<text class="s" transform="translate(217.46 153.29) scale(0.8804 1.1028)" x="-0.000" y="-0.100" font-size="10" stroke-width="0.424">0</text>
<text class="s" transform="translate(271.96 159.19) scale(0.8405 1.1239)" x="-0.000" y="-0.100" font-size="10" stroke-width="0.428">10</text>
<text class="s" transform="translate(282.61 153.29) scale(1.0321 1.0841)" x="-0.000" y="-0.000" font-size="10" stroke-width="0.397">4</text>
<text class="s" transform="translate(231.31 169.79) scale(1.0335 1.0971)" x="-0.000" y="-0.000" font-size="10" stroke-width="0.394">FL2-H</text>
<text class="m" transform="translate(376.65 87.65) scale(1.0719 1.1449)" x="-0.000" y="-0.000" font-size="10" stroke-width="0.271">M1</text>
<text class="s" transform="translate(318.69 51.39) rotate(-90) scale(0.9171 1.0676)" x="-0.000" y="-0.100" font-size="10" stroke-width="0.423">80</text>
<text class="s" transform="translate(318.69 143.29) rotate(-90) scale(0.7286 1.0887)" x="-0.000" y="-0.100" font-size="10" stroke-width="0.462">0</text>
<text class="s" transform="translate(306.29 113.39) rotate(-90) scale(1.0562 1.0394)" x="-0.000" y="-0.100" font-size="10" stroke-width="0.401">Counts</text>
<text class="s" transform="translate(321.61 160.39) scale(0.8045 1.1169)" x="-0.000" y="-0.100" font-size="10" stroke-width="0.437">10</text>
<text class="s" transform="translate(332.21 154.19) scale(0.9250 1.0887)" x="-0.000" y="-0.100" font-size="10" stroke-width="0.417">0</text>
<text class="s" transform="translate(388.96 160.39) scale(0.7505 1.1169)" x="-0.000" y="-0.100" font-size="10" stroke-width="0.450">10</text>
<text class="s" transform="translate(398.61 154.54) scale(1.0321 1.1348)" x="-0.000" y="-0.000" font-size="10" stroke-width="0.388">4</text>
<text class="s" transform="translate(347.61 171.29) scale(1.0227 1.0686)" x="-0.000" y="-0.000" font-size="10" stroke-width="0.402">FL2-H</text>
<text class="m" transform="translate(492.65 88.65) scale(1.1439 1.1449)" x="-0.000" y="-0.000" font-size="10" stroke-width="0.262">M1</text>
<text class="s" transform="translate(436.49 51.79) rotate(-90) scale(0.8991 1.0817)" x="-0.000" y="-0.100" font-size="10" stroke-width="0.424">80</text>
<text class="s" transform="translate(436.29 145.79) rotate(-90) scale(0.7286 1.0817)" x="-0.000" y="-0.100" font-size="10" stroke-width="0.464">0</text>
<text class="s" transform="translate(424.59 114.99) rotate(-90) scale(1.0688 1.0394)" x="-0.000" y="-0.100" font-size="10" stroke-width="0.398">Counts</text>
<text class="s" transform="translate(439.81 162.69) scale(0.8090 1.1099)" x="-0.000" y="-0.100" font-size="10" stroke-width="0.438">10</text>
<text class="s" transform="translate(450.46 156.39) scale(0.8625 1.0817)" x="-0.000" y="-0.100" font-size="10" stroke-width="0.432">0</text>
<text class="s" transform="translate(504.21 162.69) scale(0.7820 1.1099)" x="-0.000" y="-0.100" font-size="10" stroke-width="0.444">10</text>
<text class="s" transform="translate(514.21 157.19) scale(0.9964 1.0841)" x="-0.000" y="-0.000" font-size="10" stroke-width="0.404">4</text>
<text class="s" transform="translate(464.51 174.09) scale(1.0029 1.0543)" x="-0.000" y="-0.000" font-size="10" stroke-width="0.408">FL2-H</text>
<text class="m" transform="translate(145.65 227.65) scale(1.0719 1.0580)" x="-0.000" y="-0.000" font-size="10" stroke-width="0.282">M1</text>
<text class="s" transform="translate(90.29 201.19) rotate(-90) scale(0.8991 1.0676)" x="-0.000" y="-0.100" font-size="10" stroke-width="0.427">80</text>
<text class="s" transform="translate(90.29 292.29) rotate(-90) scale(0.7464 1.0817)" x="-0.000" y="-0.100" font-size="10" stroke-width="0.459">0</text>
<text class="s" transform="translate(78.09 262.59) rotate(-90) scale(1.0656 1.0817)" x="-0.000" y="-0.100" font-size="10" stroke-width="0.391">Counts</text>
<text class="s" transform="translate(93.81 309.54) scale(0.7865 1.0887)" x="-0.000" y="-0.100" font-size="10" stroke-width="0.448">10</text>
<text class="s" transform="translate(104.21 303.29) scale(0.8625 1.0324)" x="-0.000" y="-0.100" font-size="10" stroke-width="0.443">0</text>
<text class="s" transform="translate(154.11 309.54) scale(0.8045 1.0887)" x="-0.000" y="-0.100" font-size="10" stroke-width="0.444">10</text>
<text class="s" transform="translate(164.46 303.54) scale(0.9696 1.0986)" x="-0.000" y="-0.000" font-size="10" stroke-width="0.406">4</text>
<text class="s" transform="translate(115.51 320.54) scale(1.0137 1.0614)" x="-0.000" y="-0.000" font-size="10" stroke-width="0.405">FL2-H</text>
<text class="m" transform="translate(258.65 228.25) scale(1.0719 1.0870)" x="-0.000" y="-0.000" font-size="10" stroke-width="0.278">M1</text>
<text class="s" transform="translate(201.69 202.39) rotate(-90) scale(0.9171 1.0676)" x="-0.000" y="-0.100" font-size="10" stroke-width="0.423">80</text>
<text class="s" transform="translate(201.69 292.69) rotate(-90) scale(0.7554 1.0887)" x="-0.000" y="-0.100" font-size="10" stroke-width="0.456">0</text>
<text class="s" transform="translate(188.89 262.59) rotate(-90) scale(1.0435 1.0817)" x="-0.000" y="-0.100" font-size="10" stroke-width="0.395">Counts</text>
<text class="s" transform="translate(204.61 309.54) scale(0.8045 1.0887)" x="-0.000" y="-0.100" font-size="10" stroke-width="0.444">10</text>
<text class="s" transform="translate(215.21 303.54) scale(0.9250 1.0324)" x="-0.000" y="-0.100" font-size="10" stroke-width="0.429">0</text>
<text class="s" transform="translate(268.11 309.79) scale(0.8045 1.0676)" x="-0.000" y="-0.100" font-size="10" stroke-width="0.449">10</text>
<text class="s" transform="translate(278.11 303.89) scale(1.0321 1.0768)" x="-0.000" y="-0.000" font-size="10" stroke-width="0.398">4</text>
<text class="s" transform="translate(228.01 320.54) scale(1.0083 1.0614)" x="-0.000" y="-0.000" font-size="10" stroke-width="0.406">FL2-H</text>
<text class="m" transform="translate(372.05 227.65) scale(1.1151 1.1449)" x="-0.000" y="-0.000" font-size="10" stroke-width="0.265">M1</text>
<text class="s" transform="translate(317.29 201.79) rotate(-90) scale(0.9171 1.0676)" x="-0.000" y="-0.100" font-size="10" stroke-width="0.423">80</text>
<text class="s" transform="translate(317.29 291.39) rotate(-90) scale(0.7464 1.0817)" x="-0.000" y="-0.100" font-size="10" stroke-width="0.459">0</text>
<text class="s" transform="translate(304.69 262.19) rotate(-90) scale(1.0530 1.0817)" x="-0.000" y="-0.100" font-size="10" stroke-width="0.394">Counts</text>
<text class="s" transform="translate(320.81 308.54) scale(0.8090 1.0676)" x="-0.000" y="-0.100" font-size="10" stroke-width="0.448">10</text>
<text class="s" transform="translate(331.21 302.29) scale(0.8625 1.0676)" x="-0.000" y="-0.100" font-size="10" stroke-width="0.435">0</text>
<text class="s" transform="translate(384.71 308.54) scale(0.7730 1.0676)" x="-0.000" y="-0.100" font-size="10" stroke-width="0.456">10</text>
<text class="s" transform="translate(394.71 302.69) scale(0.9964 1.0841)" x="-0.000" y="-0.000" font-size="10" stroke-width="0.404">4</text>
<text class="s" transform="translate(345.41 319.29) scale(1.0029 1.0686)" x="-0.000" y="-0.000" font-size="10" stroke-width="0.406">FL2-H</text>
<text class="m" transform="translate(488.65 228.85) scale(1.1151 1.1159)" x="-0.000" y="-0.000" font-size="10" stroke-width="0.269">M1</text>
<text class="s" transform="translate(435.89 202.79) rotate(-90) scale(0.9532 1.0676)" x="-0.000" y="-0.100" font-size="10" stroke-width="0.416">80</text>
<text class="s" transform="translate(435.89 292.69) rotate(-90) scale(0.7107 1.0817)" x="-0.000" y="-0.100" font-size="10" stroke-width="0.469">0</text>
<text class="s" transform="translate(422.99 263.09) rotate(-90) scale(1.0688 1.1239)" x="-0.000" y="-0.100" font-size="10" stroke-width="0.383">Counts</text>
<text class="s" transform="translate(438.61 309.79) scale(0.8045 1.1239)" x="-0.000" y="-0.100" font-size="10" stroke-width="0.436">10</text>
<text class="s" transform="translate(449.21 303.54) scale(0.9250 1.0676)" x="-0.000" y="-0.100" font-size="10" stroke-width="0.422">0</text>
<text class="s" transform="translate(502.71 309.79) scale(0.8090 1.1239)" x="-0.000" y="-0.100" font-size="10" stroke-width="0.435">10</text>
<text class="s" transform="translate(512.96 304.29) scale(0.9964 1.0841)" x="-0.000" y="-0.000" font-size="10" stroke-width="0.404">4</text>
<text class="s" transform="translate(463.21 320.79) scale(1.0101 1.0686)" x="-0.000" y="-0.000" font-size="10" stroke-width="0.404">FL2-H</text>
</g>
</svg></body></html>
